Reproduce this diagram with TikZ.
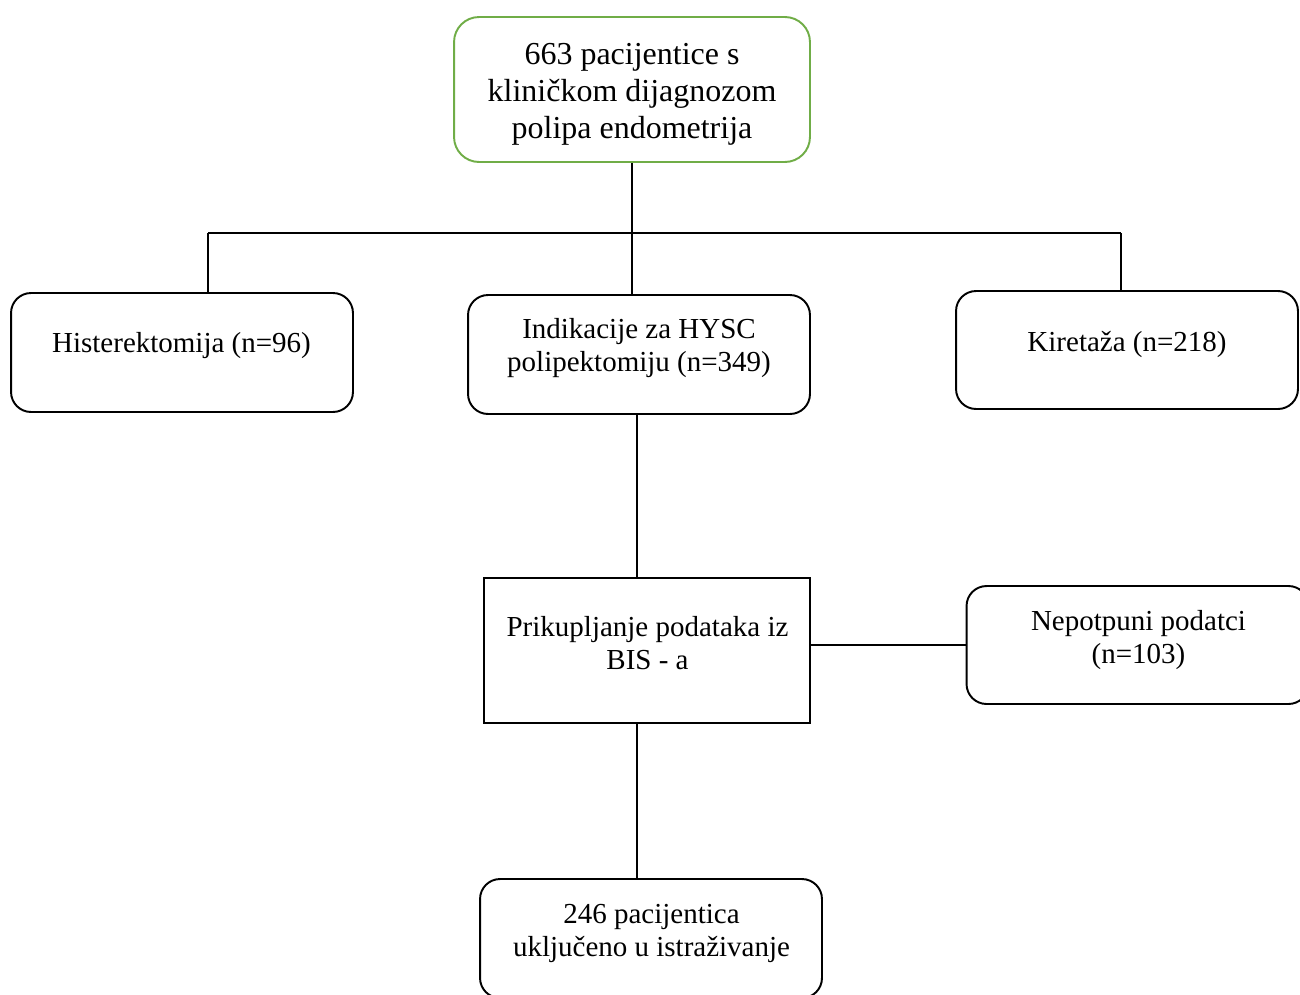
\documentclass[tikz,border=0pt]{standalone}
\usepackage{fontspec}
\setmainfont{Liberation Serif}
\definecolor{okvir}{HTML}{70AD47}
\begin{document}
\begin{tikzpicture}[x=0.02cm,y=-0.02cm,line width=0.6pt,
  box/.style={draw,line width=1.1pt,rounded corners=0.4cm,minimum width=6.84cm,minimum height=2.38cm,inner sep=0pt},
  txt/.style={align=center,inner sep=0pt,font=\fontsize{16.5}{18.8}\selectfont}]
\useasboundingbox(0,0)rectangle(1300,994);
\clip(0,0)rectangle(1300,994);
% okviri
\node[box,draw=okvir,rounded corners=0.5cm,minimum width=7.12cm,minimum height=2.9cm](top)at(632,89.5){};
\node[box](hist)at(182,352.5){};
\node[box](indik)at(639,354.5){};
\node[box,minimum height=2.36cm](kiret)at(1127,350){};
\node[box,rounded corners=0pt,minimum width=6.52cm,minimum height=2.9cm](prikup)at(647,650.5){};
\node[box,minimum height=2.36cm](nepot)at(1137.5,645){};
\node[box](rez)at(651,938.5){};
% tekst
\node[txt,font=\fontsize{18.2}{21}\selectfont](top-t)at(632,94){663 pacijentice s\\klini\v{c}kom dijagnozom\\polipa endometrija};
\node[txt](hist-t)at(181.5,346){Histerektomija (n=96)};
\node[txt](indik-t)at(639,348){Indikacije za HYSC\\polipektomiju (n=349)};
\node[txt](kiret-t)at(1127,344){Kireta\v{z}a (n=218)};
\node[txt](prikup-t)at(647.5,643.5){Prikupljanje podataka iz\\BIS - a};
\node[txt](nepot-t)at(1138.5,640){Nepotpuni podatci\\(n=103)};
\node[txt](rez-t)at(651.5,933){246 pacijentica\\uklju\v{c}eno u istra\v{z}ivanje};
% veze
\coordinate(bl)at(208,233);
\coordinate(br)at(1121,233);
\draw(top.south)--(top.south|-indik.north);
\draw(bl)--(br);
\draw(bl)--(bl|-hist.north);
\draw(br)--(br|-kiret.north);
\draw([xshift=-0.04cm]indik.south)--([xshift=-0.04cm]indik.south|-prikup.north);
\draw(nepot.west-|prikup.east)--(nepot.west);
\draw([xshift=-0.2cm]prikup.south)--([xshift=-0.2cm]prikup.south|-rez.north);
\end{tikzpicture}
\end{document}
